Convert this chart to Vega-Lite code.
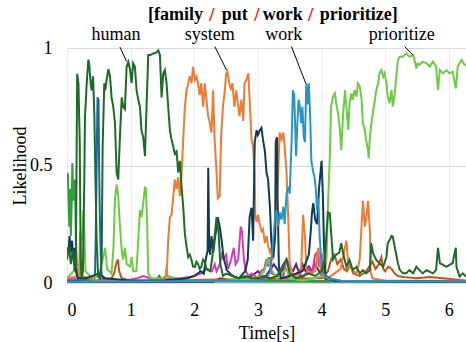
{
"$schema": "https://vega.github.io/schema/vega-lite/v6.json",
"width": 399, "height": 235,
"autosize": {"type": "none"},
"padding": {"left": 67, "top": 48, "right": 0, "bottom": 59},
"config": {"view": {"stroke": null}, "font": "Liberation Serif",
  "axis": {"labelFont": "Liberation Serif", "titleFont": "Liberation Serif", "labelFontSize": 18, "titleFontSize": 18, "titleFontWeight": "normal", "labelColor": "#000", "titleColor": "#000", "ticks": false, "domain": false},
  "axisX": {"gridColor": "#ececec"},
  "axisY": {"gridColor": "#d9d9d9"}},
"datasets": {
"lines": [
{"s":"a base","t":0,"y":0.006},{"s":"a base","t":6.27,"y":0.006},
{"s":"b purple","t":0,"y":0.005},{"s":"b purple","t":2.3,"y":0.005},{"s":"b purple","t":2.4,"y":0.02},{"s":"b purple","t":2.6,"y":0.01},{"s":"b purple","t":2.9,"y":0.03},{"s":"b purple","t":3.0,"y":0.05},{"s":"b purple","t":3.1,"y":0.02},{"s":"b purple","t":3.25,"y":0.08},{"s":"b purple","t":3.35,"y":0.04},{"s":"b purple","t":3.4,"y":0.06},{"s":"b purple","t":3.45,"y":0.1},{"s":"b purple","t":3.5,"y":0.06},{"s":"b purple","t":3.55,"y":0.05},{"s":"b purple","t":3.6,"y":0.08},{"s":"b purple","t":3.65,"y":0.04},{"s":"b purple","t":3.7,"y":0.08},{"s":"b purple","t":3.75,"y":0.05},{"s":"b purple","t":3.8,"y":0.07},{"s":"b purple","t":3.85,"y":0.05},{"s":"b purple","t":3.9,"y":0.08},{"s":"b purple","t":4.0,"y":0.03},{"s":"b purple","t":4.1,"y":0.01},{"s":"b purple","t":6.27,"y":0.005},
{"s":"c magenta","t":0,"y":0.01},{"s":"c magenta","t":0.1,"y":0.02},{"s":"c magenta","t":0.2,"y":0.01},{"s":"c magenta","t":0.3,"y":0.02},{"s":"c magenta","t":0.45,"y":0.01},{"s":"c magenta","t":0.6,"y":0.02},{"s":"c magenta","t":0.9,"y":0.01},{"s":"c magenta","t":1.1,"y":0.02},{"s":"c magenta","t":1.2,"y":0.03},{"s":"c magenta","t":1.3,"y":0.02},{"s":"c magenta","t":1.5,"y":0.01},{"s":"c magenta","t":1.6,"y":0.02},{"s":"c magenta","t":1.8,"y":0.02},{"s":"c magenta","t":2.0,"y":0.03},{"s":"c magenta","t":2.1,"y":0.04},{"s":"c magenta","t":2.2,"y":0.06},{"s":"c magenta","t":2.28,"y":0.05},{"s":"c magenta","t":2.32,"y":0.08},{"s":"c magenta","t":2.35,"y":0.05},{"s":"c magenta","t":2.4,"y":0.08},{"s":"c magenta","t":2.43,"y":0.12},{"s":"c magenta","t":2.46,"y":0.1},{"s":"c magenta","t":2.5,"y":0.12},{"s":"c magenta","t":2.53,"y":0.06},{"s":"c magenta","t":2.58,"y":0.1},{"s":"c magenta","t":2.62,"y":0.15},{"s":"c magenta","t":2.65,"y":0.08},{"s":"c magenta","t":2.69,"y":0.1},{"s":"c magenta","t":2.73,"y":0.24},{"s":"c magenta","t":2.75,"y":0.22},{"s":"c magenta","t":2.78,"y":0.1},{"s":"c magenta","t":2.81,"y":0.05},{"s":"c magenta","t":2.85,"y":0.03},{"s":"c magenta","t":2.9,"y":0.04},{"s":"c magenta","t":3.0,"y":0.02},{"s":"c magenta","t":3.05,"y":0.05},{"s":"c magenta","t":3.1,"y":0.06},{"s":"c magenta","t":3.13,"y":0.1},{"s":"c magenta","t":3.16,"y":0.07},{"s":"c magenta","t":3.19,"y":0.11},{"s":"c magenta","t":3.22,"y":0.04},{"s":"c magenta","t":3.3,"y":0.03},{"s":"c magenta","t":3.35,"y":0.05},{"s":"c magenta","t":3.4,"y":0.03},{"s":"c magenta","t":3.45,"y":0.1},{"s":"c magenta","t":3.5,"y":0.08},{"s":"c magenta","t":3.55,"y":0.03},{"s":"c magenta","t":3.65,"y":0.05},{"s":"c magenta","t":3.7,"y":0.02},{"s":"c magenta","t":3.8,"y":0.06},{"s":"c magenta","t":3.85,"y":0.04},{"s":"c magenta","t":3.9,"y":0.12},{"s":"c magenta","t":3.93,"y":0.13},{"s":"c magenta","t":3.96,"y":0.07},{"s":"c magenta","t":4.0,"y":0.126},{"s":"c magenta","t":4.03,"y":0.05},{"s":"c magenta","t":4.1,"y":0.02},{"s":"c magenta","t":4.3,"y":0.01},{"s":"c magenta","t":6.27,"y":0.005},
{"s":"d brown","t":0,"y":0.01},{"s":"d brown","t":0.6,"y":0.01},{"s":"d brown","t":0.7,"y":0.02},{"s":"d brown","t":0.74,"y":0.04},{"s":"d brown","t":0.77,"y":0.08},{"s":"d brown","t":0.8,"y":0.1},{"s":"d brown","t":0.82,"y":0.05},{"s":"d brown","t":0.86,"y":0.02},{"s":"d brown","t":1.0,"y":0.01},{"s":"d brown","t":4.0,"y":0.02},{"s":"d brown","t":4.1,"y":0.05},{"s":"d brown","t":4.15,"y":0.1},{"s":"d brown","t":4.2,"y":0.12},{"s":"d brown","t":4.25,"y":0.08},{"s":"d brown","t":4.3,"y":0.1},{"s":"d brown","t":4.35,"y":0.06},{"s":"d brown","t":4.4,"y":0.05},{"s":"d brown","t":4.45,"y":0.08},{"s":"d brown","t":4.5,"y":0.04},{"s":"d brown","t":4.6,"y":0.03},{"s":"d brown","t":4.7,"y":0.05},{"s":"d brown","t":4.8,"y":0.09},{"s":"d brown","t":4.85,"y":0.06},{"s":"d brown","t":4.9,"y":0.08},{"s":"d brown","t":4.94,"y":0.11},{"s":"d brown","t":4.97,"y":0.06},{"s":"d brown","t":5.0,"y":0.05},{"s":"d brown","t":5.05,"y":0.07},{"s":"d brown","t":5.1,"y":0.06},{"s":"d brown","t":5.15,"y":0.04},{"s":"d brown","t":5.2,"y":0.03},{"s":"d brown","t":5.3,"y":0.025},{"s":"d brown","t":5.5,"y":0.02},{"s":"d brown","t":5.7,"y":0.025},{"s":"d brown","t":5.9,"y":0.02},{"s":"d brown","t":6.1,"y":0.015},{"s":"d brown","t":6.27,"y":0.01},
{"s":"e steel","t":0,"y":0.01},{"s":"e steel","t":0.42,"y":0.01},{"s":"e steel","t":0.44,"y":0.03},{"s":"e steel","t":0.455,"y":0.25},{"s":"e steel","t":0.47,"y":0.6},{"s":"e steel","t":0.48,"y":0.79},{"s":"e steel","t":0.495,"y":0.78},{"s":"e steel","t":0.505,"y":0.5},{"s":"e steel","t":0.515,"y":0.3},{"s":"e steel","t":0.53,"y":0.12},{"s":"e steel","t":0.545,"y":0.03},{"s":"e steel","t":0.6,"y":0.01},{"s":"e steel","t":1.4,"y":0.01},{"s":"e steel","t":1.45,"y":0.03},{"s":"e steel","t":1.5,"y":0.01},{"s":"e steel","t":6.27,"y":0.005},
{"s":"f green","t":0,"y":0.47},{"s":"f green","t":0.015,"y":0.46},{"s":"f green","t":0.03,"y":0.3},{"s":"f green","t":0.037,"y":0.24},{"s":"f green","t":0.047,"y":0.4},{"s":"f green","t":0.06,"y":0.2},{"s":"f green","t":0.075,"y":0.35},{"s":"f green","t":0.084,"y":0.51},{"s":"f green","t":0.1,"y":0.35},{"s":"f green","t":0.115,"y":0.4},{"s":"f green","t":0.126,"y":0.44},{"s":"f green","t":0.14,"y":0.18},{"s":"f green","t":0.16,"y":0.04},{"s":"f green","t":0.2,"y":0.02},{"s":"f green","t":0.4,"y":0.01},{"s":"f green","t":6.27,"y":0.005},
{"s":"g prioritize","t":0,"y":0.02},{"s":"g prioritize","t":0.1,"y":0.05},{"s":"g prioritize","t":0.2,"y":0.08},{"s":"g prioritize","t":0.22,"y":0.2},{"s":"g prioritize","t":0.24,"y":0.18},{"s":"g prioritize","t":0.256,"y":0.31},{"s":"g prioritize","t":0.27,"y":0.24},{"s":"g prioritize","t":0.29,"y":0.05},{"s":"g prioritize","t":0.4,"y":0.02},{"s":"g prioritize","t":0.45,"y":0.03},{"s":"g prioritize","t":0.5,"y":0.02},{"s":"g prioritize","t":0.56,"y":0.1},{"s":"g prioritize","t":0.6,"y":0.15},{"s":"g prioritize","t":0.63,"y":0.06},{"s":"g prioritize","t":0.7,"y":0.04},{"s":"g prioritize","t":0.73,"y":0.15},{"s":"g prioritize","t":0.754,"y":0.36},{"s":"g prioritize","t":0.78,"y":0.42},{"s":"g prioritize","t":0.805,"y":0.37},{"s":"g prioritize","t":0.83,"y":0.25},{"s":"g prioritize","t":0.86,"y":0.14},{"s":"g prioritize","t":0.88,"y":0.1},{"s":"g prioritize","t":0.91,"y":0.15},{"s":"g prioritize","t":0.94,"y":0.08},{"s":"g prioritize","t":0.99,"y":0.07},{"s":"g prioritize","t":1.015,"y":0.11},{"s":"g prioritize","t":1.04,"y":0.05},{"s":"g prioritize","t":1.09,"y":0.05},{"s":"g prioritize","t":1.12,"y":0.18},{"s":"g prioritize","t":1.146,"y":0.31},{"s":"g prioritize","t":1.17,"y":0.28},{"s":"g prioritize","t":1.198,"y":0.34},{"s":"g prioritize","t":1.225,"y":0.41},{"s":"g prioritize","t":1.24,"y":0.4},{"s":"g prioritize","t":1.26,"y":0.25},{"s":"g prioritize","t":1.277,"y":0.04},{"s":"g prioritize","t":1.32,"y":0.02},{"s":"g prioritize","t":1.5,"y":0.02},{"s":"g prioritize","t":1.55,"y":0.03},{"s":"g prioritize","t":1.565,"y":0.07},{"s":"g prioritize","t":1.58,"y":0.03},{"s":"g prioritize","t":1.7,"y":0.02},{"s":"g prioritize","t":2.0,"y":0.01},{"s":"g prioritize","t":2.5,"y":0.01},{"s":"g prioritize","t":3.0,"y":0.02},{"s":"g prioritize","t":3.1,"y":0.05},{"s":"g prioritize","t":3.16,"y":0.11},{"s":"g prioritize","t":3.2,"y":0.06},{"s":"g prioritize","t":3.3,"y":0.02},{"s":"g prioritize","t":3.45,"y":0.06},{"s":"g prioritize","t":3.5,"y":0.02},{"s":"g prioritize","t":3.7,"y":0.01},{"s":"g prioritize","t":3.9,"y":0.02},{"s":"g prioritize","t":4.0,"y":0.03},{"s":"g prioritize","t":4.05,"y":0.04},{"s":"g prioritize","t":4.08,"y":0.112},{"s":"g prioritize","t":4.1,"y":0.325},{"s":"g prioritize","t":4.13,"y":0.538},{"s":"g prioritize","t":4.15,"y":0.751},{"s":"g prioritize","t":4.18,"y":0.793},{"s":"g prioritize","t":4.21,"y":0.807},{"s":"g prioritize","t":4.23,"y":0.765},{"s":"g prioritize","t":4.26,"y":0.722},{"s":"g prioritize","t":4.29,"y":0.651},{"s":"g prioritize","t":4.31,"y":0.566},{"s":"g prioritize","t":4.34,"y":0.722},{"s":"g prioritize","t":4.37,"y":0.821},{"s":"g prioritize","t":4.39,"y":0.751},{"s":"g prioritize","t":4.42,"y":0.651},{"s":"g prioritize","t":4.44,"y":0.765},{"s":"g prioritize","t":4.47,"y":0.807},{"s":"g prioritize","t":4.49,"y":0.779},{"s":"g prioritize","t":4.52,"y":0.821},{"s":"g prioritize","t":4.55,"y":0.793},{"s":"g prioritize","t":4.57,"y":0.85},{"s":"g prioritize","t":4.6,"y":0.836},{"s":"g prioritize","t":4.63,"y":0.779},{"s":"g prioritize","t":4.65,"y":0.68},{"s":"g prioritize","t":4.68,"y":0.651},{"s":"g prioritize","t":4.7,"y":0.609},{"s":"g prioritize","t":4.73,"y":0.566},{"s":"g prioritize","t":4.74,"y":0.53},{"s":"g prioritize","t":4.76,"y":0.623},{"s":"g prioritize","t":4.79,"y":0.694},{"s":"g prioritize","t":4.83,"y":0.765},{"s":"g prioritize","t":4.86,"y":0.821},{"s":"g prioritize","t":4.89,"y":0.85},{"s":"g prioritize","t":4.91,"y":0.892},{"s":"g prioritize","t":4.94,"y":0.906},{"s":"g prioritize","t":4.97,"y":0.878},{"s":"g prioritize","t":4.99,"y":0.892},{"s":"g prioritize","t":5.02,"y":0.85},{"s":"g prioritize","t":5.04,"y":0.793},{"s":"g prioritize","t":5.07,"y":0.765},{"s":"g prioritize","t":5.1,"y":0.821},{"s":"g prioritize","t":5.12,"y":0.751},{"s":"g prioritize","t":5.15,"y":0.807},{"s":"g prioritize","t":5.18,"y":0.892},{"s":"g prioritize","t":5.2,"y":0.949},{"s":"g prioritize","t":5.23,"y":0.963},{"s":"g prioritize","t":5.28,"y":0.963},{"s":"g prioritize","t":5.33,"y":0.977},{"s":"g prioritize","t":5.38,"y":0.963},{"s":"g prioritize","t":5.44,"y":0.97},{"s":"g prioritize","t":5.46,"y":0.949},{"s":"g prioritize","t":5.49,"y":0.913},{"s":"g prioritize","t":5.51,"y":0.935},{"s":"g prioritize","t":5.54,"y":0.928},{"s":"g prioritize","t":5.59,"y":0.942},{"s":"g prioritize","t":5.65,"y":0.935},{"s":"g prioritize","t":5.7,"y":0.921},{"s":"g prioritize","t":5.75,"y":0.942},{"s":"g prioritize","t":5.8,"y":0.921},{"s":"g prioritize","t":5.83,"y":0.821},{"s":"g prioritize","t":5.86,"y":0.906},{"s":"g prioritize","t":5.91,"y":0.892},{"s":"g prioritize","t":5.96,"y":0.906},{"s":"g prioritize","t":6.01,"y":0.892},{"s":"g prioritize","t":6.06,"y":0.899},{"s":"g prioritize","t":6.11,"y":0.828},{"s":"g prioritize","t":6.14,"y":0.921},{"s":"g prioritize","t":6.2,"y":0.949},{"s":"g prioritize","t":6.25,"y":0.928},{"s":"g prioritize","t":6.27,"y":0.93},
{"s":"h system","t":0,"y":0.02},{"s":"h system","t":0.19,"y":0.03},{"s":"h system","t":0.205,"y":0.22},{"s":"h system","t":0.22,"y":0.03},{"s":"h system","t":0.5,"y":0.01},{"s":"h system","t":1.0,"y":0.01},{"s":"h system","t":1.5,"y":0.01},{"s":"h system","t":1.565,"y":0.03},{"s":"h system","t":1.59,"y":0.183},{"s":"h system","t":1.617,"y":0.28},{"s":"h system","t":1.643,"y":0.29},{"s":"h system","t":1.67,"y":0.37},{"s":"h system","t":1.695,"y":0.44},{"s":"h system","t":1.722,"y":0.4},{"s":"h system","t":1.748,"y":0.45},{"s":"h system","t":1.774,"y":0.37},{"s":"h system","t":1.8,"y":0.46},{"s":"h system","t":1.826,"y":0.61},{"s":"h system","t":1.852,"y":0.75},{"s":"h system","t":1.879,"y":0.82},{"s":"h system","t":1.905,"y":0.85},{"s":"h system","t":1.93,"y":0.88},{"s":"h system","t":1.957,"y":0.85},{"s":"h system","t":1.98,"y":0.92},{"s":"h system","t":2.01,"y":0.864},{"s":"h system","t":2.035,"y":0.878},{"s":"h system","t":2.06,"y":0.85},{"s":"h system","t":2.085,"y":0.8},{"s":"h system","t":2.11,"y":0.85},{"s":"h system","t":2.14,"y":0.75},{"s":"h system","t":2.166,"y":0.85},{"s":"h system","t":2.19,"y":0.78},{"s":"h system","t":2.218,"y":0.71},{"s":"h system","t":2.245,"y":0.68},{"s":"h system","t":2.27,"y":0.64},{"s":"h system","t":2.296,"y":0.82},{"s":"h system","t":2.32,"y":0.61},{"s":"h system","t":2.35,"y":0.47},{"s":"h system","t":2.37,"y":0.36},{"s":"h system","t":2.4,"y":0.37},{"s":"h system","t":2.42,"y":0.61},{"s":"h system","t":2.45,"y":0.75},{"s":"h system","t":2.48,"y":0.82},{"s":"h system","t":2.5,"y":0.89},{"s":"h system","t":2.52,"y":0.9},{"s":"h system","t":2.55,"y":0.85},{"s":"h system","t":2.58,"y":0.82},{"s":"h system","t":2.6,"y":0.85},{"s":"h system","t":2.63,"y":0.75},{"s":"h system","t":2.66,"y":0.82},{"s":"h system","t":2.69,"y":0.75},{"s":"h system","t":2.71,"y":0.71},{"s":"h system","t":2.74,"y":0.78},{"s":"h system","t":2.77,"y":0.69},{"s":"h system","t":2.79,"y":0.85},{"s":"h system","t":2.82,"y":0.864},{"s":"h system","t":2.85,"y":0.892},{"s":"h system","t":2.87,"y":0.78},{"s":"h system","t":2.9,"y":0.61},{"s":"h system","t":2.925,"y":0.58},{"s":"h system","t":2.95,"y":0.45},{"s":"h system","t":2.96,"y":0.28},{"s":"h system","t":2.98,"y":0.26},{"s":"h system","t":3.0,"y":0.29},{"s":"h system","t":3.03,"y":0.25},{"s":"h system","t":3.056,"y":0.22},{"s":"h system","t":3.08,"y":0.23},{"s":"h system","t":3.11,"y":0.17},{"s":"h system","t":3.135,"y":0.2},{"s":"h system","t":3.16,"y":0.16},{"s":"h system","t":3.19,"y":0.13},{"s":"h system","t":3.21,"y":0.15},{"s":"h system","t":3.24,"y":0.1},{"s":"h system","t":3.27,"y":0.2},{"s":"h system","t":3.29,"y":0.33},{"s":"h system","t":3.32,"y":0.47},{"s":"h system","t":3.34,"y":0.64},{"s":"h system","t":3.37,"y":0.61},{"s":"h system","t":3.4,"y":0.64},{"s":"h system","t":3.42,"y":0.58},{"s":"h system","t":3.45,"y":0.47},{"s":"h system","t":3.47,"y":0.33},{"s":"h system","t":3.5,"y":0.07},{"s":"h system","t":3.55,"y":0.04},{"s":"h system","t":3.6,"y":0.03},{"s":"h system","t":3.68,"y":0.05},{"s":"h system","t":3.71,"y":0.29},{"s":"h system","t":3.74,"y":0.2},{"s":"h system","t":3.76,"y":0.06},{"s":"h system","t":3.8,"y":0.04},{"s":"h system","t":3.9,"y":0.05},{"s":"h system","t":3.95,"y":0.15},{"s":"h system","t":3.97,"y":0.1},{"s":"h system","t":4.0,"y":0.03},{"s":"h system","t":4.1,"y":0.02},{"s":"h system","t":4.2,"y":0.04},{"s":"h system","t":4.3,"y":0.06},{"s":"h system","t":4.39,"y":0.18},{"s":"h system","t":4.42,"y":0.08},{"s":"h system","t":4.5,"y":0.05},{"s":"h system","t":4.55,"y":0.04},{"s":"h system","t":4.6,"y":0.1},{"s":"h system","t":4.63,"y":0.25},{"s":"h system","t":4.65,"y":0.35},{"s":"h system","t":4.68,"y":0.24},{"s":"h system","t":4.7,"y":0.27},{"s":"h system","t":4.73,"y":0.35},{"s":"h system","t":4.76,"y":0.22},{"s":"h system","t":4.77,"y":0.05},{"s":"h system","t":4.8,"y":0.02},{"s":"h system","t":5.0,"y":0.01},{"s":"h system","t":6.27,"y":0.01},
{"s":"i navy","t":0,"y":0.15},{"s":"i navy","t":0.02,"y":0.12},{"s":"i navy","t":0.04,"y":0.2},{"s":"i navy","t":0.06,"y":0.13},{"s":"i navy","t":0.08,"y":0.18},{"s":"i navy","t":0.1,"y":0.1},{"s":"i navy","t":0.12,"y":0.15},{"s":"i navy","t":0.14,"y":0.05},{"s":"i navy","t":0.17,"y":0.02},{"s":"i navy","t":0.3,"y":0.02},{"s":"i navy","t":0.4,"y":0.03},{"s":"i navy","t":0.5,"y":0.04},{"s":"i navy","t":0.6,"y":0.02},{"s":"i navy","t":1.0,"y":0.01},{"s":"i navy","t":1.5,"y":0.01},{"s":"i navy","t":1.9,"y":0.02},{"s":"i navy","t":2.0,"y":0.03},{"s":"i navy","t":2.1,"y":0.05},{"s":"i navy","t":2.15,"y":0.04},{"s":"i navy","t":2.18,"y":0.1},{"s":"i navy","t":2.21,"y":0.14},{"s":"i navy","t":2.22,"y":0.49},{"s":"i navy","t":2.235,"y":0.14},{"s":"i navy","t":2.25,"y":0.12},{"s":"i navy","t":2.27,"y":0.2},{"s":"i navy","t":2.3,"y":0.13},{"s":"i navy","t":2.32,"y":0.18},{"s":"i navy","t":2.35,"y":0.24},{"s":"i navy","t":2.37,"y":0.28},{"s":"i navy","t":2.4,"y":0.24},{"s":"i navy","t":2.43,"y":0.18},{"s":"i navy","t":2.46,"y":0.11},{"s":"i navy","t":2.51,"y":0.055},{"s":"i navy","t":2.6,"y":0.03},{"s":"i navy","t":2.7,"y":0.02},{"s":"i navy","t":2.8,"y":0.05},{"s":"i navy","t":2.84,"y":0.1},{"s":"i navy","t":2.87,"y":0.28},{"s":"i navy","t":2.9,"y":0.32},{"s":"i navy","t":2.925,"y":0.18},{"s":"i navy","t":2.95,"y":0.6},{"s":"i navy","t":2.98,"y":0.65},{"s":"i navy","t":3.0,"y":0.63},{"s":"i navy","t":3.03,"y":0.65},{"s":"i navy","t":3.056,"y":0.66},{"s":"i navy","t":3.08,"y":0.61},{"s":"i navy","t":3.11,"y":0.56},{"s":"i navy","t":3.135,"y":0.47},{"s":"i navy","t":3.16,"y":0.44},{"s":"i navy","t":3.19,"y":0.32},{"s":"i navy","t":3.21,"y":0.18},{"s":"i navy","t":3.24,"y":0.11},{"s":"i navy","t":3.27,"y":0.2},{"s":"i navy","t":3.28,"y":0.6},{"s":"i navy","t":3.3,"y":0.62},{"s":"i navy","t":3.31,"y":0.35},{"s":"i navy","t":3.33,"y":0.07},{"s":"i navy","t":3.36,"y":0.02},{"s":"i navy","t":3.5,"y":0.03},{"s":"i navy","t":3.6,"y":0.04},{"s":"i navy","t":3.7,"y":0.05},{"s":"i navy","t":3.8,"y":0.12},{"s":"i navy","t":3.83,"y":0.22},{"s":"i navy","t":3.85,"y":0.3},{"s":"i navy","t":3.87,"y":0.34},{"s":"i navy","t":3.9,"y":0.27},{"s":"i navy","t":3.93,"y":0.25},{"s":"i navy","t":3.96,"y":0.4},{"s":"i navy","t":4.0,"y":0.52},{"s":"i navy","t":4.02,"y":0.38},{"s":"i navy","t":4.04,"y":0.15},{"s":"i navy","t":4.06,"y":0.03},{"s":"i navy","t":4.2,"y":0.01},{"s":"i navy","t":6.27,"y":0.005},
{"s":"j work","t":0,"y":0.005},{"s":"j work","t":3.1,"y":0.01},{"s":"j work","t":3.2,"y":0.05},{"s":"j work","t":3.24,"y":0.18},{"s":"j work","t":3.27,"y":0.28},{"s":"j work","t":3.29,"y":0.31},{"s":"j work","t":3.32,"y":0.24},{"s":"j work","t":3.345,"y":0.3},{"s":"j work","t":3.37,"y":0.27},{"s":"j work","t":3.4,"y":0.325},{"s":"j work","t":3.42,"y":0.25},{"s":"j work","t":3.45,"y":0.38},{"s":"j work","t":3.48,"y":0.41},{"s":"j work","t":3.5,"y":0.38},{"s":"j work","t":3.53,"y":0.61},{"s":"j work","t":3.55,"y":0.82},{"s":"j work","t":3.57,"y":0.8},{"s":"j work","t":3.6,"y":0.54},{"s":"j work","t":3.62,"y":0.68},{"s":"j work","t":3.64,"y":0.78},{"s":"j work","t":3.66,"y":0.75},{"s":"j work","t":3.68,"y":0.68},{"s":"j work","t":3.7,"y":0.75},{"s":"j work","t":3.72,"y":0.62},{"s":"j work","t":3.74,"y":0.6},{"s":"j work","t":3.76,"y":0.85},{"s":"j work","t":3.78,"y":0.76},{"s":"j work","t":3.8,"y":0.85},{"s":"j work","t":3.82,"y":0.72},{"s":"j work","t":3.84,"y":0.52},{"s":"j work","t":3.87,"y":0.47},{"s":"j work","t":3.89,"y":0.45},{"s":"j work","t":3.91,"y":0.4},{"s":"j work","t":3.93,"y":0.31},{"s":"j work","t":3.95,"y":0.36},{"s":"j work","t":3.97,"y":0.2},{"s":"j work","t":4.0,"y":0.08},{"s":"j work","t":4.02,"y":0.04},{"s":"j work","t":4.1,"y":0.02},{"s":"j work","t":4.3,"y":0.01},{"s":"j work","t":6.27,"y":0.005},
{"s":"k human","t":0,"y":0.1},{"s":"k human","t":0.03,"y":0.16},{"s":"k human","t":0.06,"y":0.08},{"s":"k human","t":0.09,"y":0.14},{"s":"k human","t":0.12,"y":0.05},{"s":"k human","t":0.14,"y":0.12},{"s":"k human","t":0.16,"y":0.89},{"s":"k human","t":0.18,"y":0.85},{"s":"k human","t":0.2,"y":0.6},{"s":"k human","t":0.215,"y":0.1},{"s":"k human","t":0.23,"y":0.02},{"s":"k human","t":0.25,"y":0.05},{"s":"k human","t":0.27,"y":0.4},{"s":"k human","t":0.283,"y":0.71},{"s":"k human","t":0.31,"y":0.85},{"s":"k human","t":0.335,"y":0.95},{"s":"k human","t":0.35,"y":0.93},{"s":"k human","t":0.36,"y":0.89},{"s":"k human","t":0.375,"y":0.84},{"s":"k human","t":0.387,"y":0.82},{"s":"k human","t":0.41,"y":0.88},{"s":"k human","t":0.43,"y":0.71},{"s":"k human","t":0.45,"y":0.4},{"s":"k human","t":0.466,"y":0.18},{"s":"k human","t":0.49,"y":0.03},{"s":"k human","t":0.52,"y":0.02},{"s":"k human","t":0.545,"y":0.1},{"s":"k human","t":0.56,"y":0.58},{"s":"k human","t":0.586,"y":0.85},{"s":"k human","t":0.6,"y":0.82},{"s":"k human","t":0.62,"y":0.86},{"s":"k human","t":0.65,"y":0.91},{"s":"k human","t":0.675,"y":0.88},{"s":"k human","t":0.69,"y":0.83},{"s":"k human","t":0.7,"y":0.79},{"s":"k human","t":0.727,"y":0.75},{"s":"k human","t":0.754,"y":0.68},{"s":"k human","t":0.77,"y":0.55},{"s":"k human","t":0.78,"y":0.47},{"s":"k human","t":0.805,"y":0.44},{"s":"k human","t":0.83,"y":0.61},{"s":"k human","t":0.86,"y":0.79},{"s":"k human","t":0.884,"y":0.75},{"s":"k human","t":0.91,"y":0.74},{"s":"k human","t":0.937,"y":0.92},{"s":"k human","t":0.963,"y":0.94},{"s":"k human","t":0.99,"y":0.91},{"s":"k human","t":1.015,"y":0.85},{"s":"k human","t":1.04,"y":0.935},{"s":"k human","t":1.067,"y":0.92},{"s":"k human","t":1.093,"y":0.82},{"s":"k human","t":1.12,"y":0.78},{"s":"k human","t":1.146,"y":0.75},{"s":"k human","t":1.17,"y":0.65},{"s":"k human","t":1.198,"y":0.62},{"s":"k human","t":1.225,"y":0.54},{"s":"k human","t":1.25,"y":0.75},{"s":"k human","t":1.277,"y":0.97},{"s":"k human","t":1.31,"y":0.97},{"s":"k human","t":1.355,"y":0.977},{"s":"k human","t":1.4,"y":0.98},{"s":"k human","t":1.434,"y":0.99},{"s":"k human","t":1.46,"y":0.97},{"s":"k human","t":1.486,"y":0.79},{"s":"k human","t":1.512,"y":0.89},{"s":"k human","t":1.538,"y":0.906},{"s":"k human","t":1.565,"y":0.85},{"s":"k human","t":1.59,"y":0.75},{"s":"k human","t":1.617,"y":0.65},{"s":"k human","t":1.643,"y":0.61},{"s":"k human","t":1.67,"y":0.58},{"s":"k human","t":1.695,"y":0.55},{"s":"k human","t":1.722,"y":0.56},{"s":"k human","t":1.748,"y":0.47},{"s":"k human","t":1.774,"y":0.52},{"s":"k human","t":1.8,"y":0.41},{"s":"k human","t":1.826,"y":0.325},{"s":"k human","t":1.852,"y":0.21},{"s":"k human","t":1.879,"y":0.154},{"s":"k human","t":1.905,"y":0.11},{"s":"k human","t":1.93,"y":0.12},{"s":"k human","t":1.957,"y":0.098},{"s":"k human","t":1.98,"y":0.07},{"s":"k human","t":2.01,"y":0.069},{"s":"k human","t":2.035,"y":0.09},{"s":"k human","t":2.06,"y":0.08},{"s":"k human","t":2.085,"y":0.06},{"s":"k human","t":2.11,"y":0.069},{"s":"k human","t":2.14,"y":0.1},{"s":"k human","t":2.166,"y":0.09},{"s":"k human","t":2.19,"y":0.06},{"s":"k human","t":2.218,"y":0.055},{"s":"k human","t":2.25,"y":0.05},{"s":"k human","t":2.28,"y":0.1},{"s":"k human","t":2.32,"y":0.2},{"s":"k human","t":2.35,"y":0.28},{"s":"k human","t":2.38,"y":0.22},{"s":"k human","t":2.41,"y":0.08},{"s":"k human","t":2.45,"y":0.03},{"s":"k human","t":2.5,"y":0.04},{"s":"k human","t":2.6,"y":0.03},{"s":"k human","t":2.7,"y":0.02},{"s":"k human","t":2.8,"y":0.03},{"s":"k human","t":2.9,"y":0.02},{"s":"k human","t":3.0,"y":0.02},{"s":"k human","t":3.1,"y":0.03},{"s":"k human","t":3.2,"y":0.02},{"s":"k human","t":3.3,"y":0.03},{"s":"k human","t":3.4,"y":0.08},{"s":"k human","t":3.45,"y":0.1},{"s":"k human","t":3.5,"y":0.04},{"s":"k human","t":3.6,"y":0.02},{"s":"k human","t":3.7,"y":0.03},{"s":"k human","t":3.8,"y":0.04},{"s":"k human","t":3.9,"y":0.03},{"s":"k human","t":4.0,"y":0.05},{"s":"k human","t":4.05,"y":0.1},{"s":"k human","t":4.1,"y":0.3},{"s":"k human","t":4.13,"y":0.297},{"s":"k human","t":4.18,"y":0.1},{"s":"k human","t":4.23,"y":0.12},{"s":"k human","t":4.28,"y":0.13},{"s":"k human","t":4.31,"y":0.169},{"s":"k human","t":4.34,"y":0.126},{"s":"k human","t":4.39,"y":0.069},{"s":"k human","t":4.44,"y":0.098},{"s":"k human","t":4.49,"y":0.055},{"s":"k human","t":4.55,"y":0.069},{"s":"k human","t":4.6,"y":0.041},{"s":"k human","t":4.65,"y":0.055},{"s":"k human","t":4.7,"y":0.041},{"s":"k human","t":4.76,"y":0.055},{"s":"k human","t":4.78,"y":0.169},{"s":"k human","t":4.81,"y":0.126},{"s":"k human","t":4.86,"y":0.098},{"s":"k human","t":4.91,"y":0.084},{"s":"k human","t":4.97,"y":0.069},{"s":"k human","t":5.02,"y":0.112},{"s":"k human","t":5.04,"y":0.169},{"s":"k human","t":5.07,"y":0.183},{"s":"k human","t":5.1,"y":0.2},{"s":"k human","t":5.12,"y":0.197},{"s":"k human","t":5.15,"y":0.154},{"s":"k human","t":5.18,"y":0.112},{"s":"k human","t":5.2,"y":0.084},{"s":"k human","t":5.23,"y":0.055},{"s":"k human","t":5.28,"y":0.041},{"s":"k human","t":5.33,"y":0.041},{"s":"k human","t":5.38,"y":0.055},{"s":"k human","t":5.44,"y":0.041},{"s":"k human","t":5.49,"y":0.069},{"s":"k human","t":5.54,"y":0.055},{"s":"k human","t":5.59,"y":0.041},{"s":"k human","t":5.65,"y":0.055},{"s":"k human","t":5.75,"y":0.041},{"s":"k human","t":5.8,"y":0.055},{"s":"k human","t":5.83,"y":0.15},{"s":"k human","t":5.86,"y":0.084},{"s":"k human","t":5.91,"y":0.077},{"s":"k human","t":5.96,"y":0.069},{"s":"k human","t":6.01,"y":0.077},{"s":"k human","t":6.06,"y":0.084},{"s":"k human","t":6.09,"y":0.126},{"s":"k human","t":6.11,"y":0.15},{"s":"k human","t":6.12,"y":0.069},{"s":"k human","t":6.17,"y":0.027},{"s":"k human","t":6.22,"y":0.041},{"s":"k human","t":6.27,"y":0.027}
],
"arrows": [
{"x1":0.832,"y1":1.004,"x2":0.937,"y2":0.942},
{"x1":2.323,"y1":1.006,"x2":2.507,"y2":0.906},
{"x1":3.527,"y1":1.006,"x2":3.752,"y2":0.85},
{"x1":5.306,"y1":1.006,"x2":5.437,"y2":0.97}
],
"labels": [
{"t":0.769,"y":1.055,"label":"human"},
{"t":2.245,"y":1.055,"label":"system"},
{"t":3.407,"y":1.055,"label":"work"},
{"t":5.259,"y":1.055,"label":"prioritize"}
],
"words": [
{"t":1.272,"y":1.14,"label":"[family"},
{"t":2.433,"y":1.14,"label":"put"},
{"t":3.077,"y":1.14,"label":"work"},
{"t":3.972,"y":1.14,"label":"prioritize]"}
],
"slashes": [
{"t":2.276,"y":1.14,"label":"/"},
{"t":2.983,"y":1.14,"label":"/"},
{"t":3.83,"y":1.14,"label":"/"}
]
},
"layer": [
{"data": {"name": "lines"},
 "mark": {"type": "line", "strokeWidth": 2, "clip": true},
 "encoding": {
  "x": {"field": "t", "type": "quantitative", "title": "Time[s]",
    "scale": {"domain": [0, 6.27], "nice": false, "zero": false},
    "axis": {"values": [0,0.25,0.5,0.75,1,1.25,1.5,1.75,2,2.25,2.5,2.75,3,3.25,3.5,3.75,4,4.25,4.5,4.75,5,5.25,5.5,5.75,6,6.25],
      "grid": true, "labelPadding": 18, "titlePadding": 5,
      "labelExpr": "datum.value % 1 == 0 ? '' + datum.value : ''"}},
  "y": {"field": "y", "type": "quantitative", "title": "Likelihood",
    "scale": {"domain": [0, 1], "nice": false},
    "axis": {"values": [0, 0.5, 1], "grid": true, "labelPadding": 15, "titlePadding": 0,
      "labelExpr": "'' + datum.value"}},
  "color": {"field": "s", "type": "nominal", "legend": null,
    "scale": {"domain": ["a base","b purple","c magenta","d brown","e steel","f green","g prioritize","h system","i navy","j work","k human"],
      "range": ["#1a7a8c","#5a1f5c","#d13db7","#c2501c","#1d6897","#2f9e3b","#6ccb44","#ee7a33","#0f3b55","#2794c9","#1d6b28"]}}
 }},
{"data": {"name": "arrows"},
 "mark": {"type": "rule", "color": "#000", "strokeWidth": 1},
 "encoding": {
  "x": {"field": "x1", "type": "quantitative", "title": "Time[s]"},
  "x2": {"field": "x2"},
  "y": {"field": "y1", "type": "quantitative", "title": "Likelihood"},
  "y2": {"field": "y2"}
 }},
{"data": {"name": "labels"},
 "mark": {"type": "text", "font": "Liberation Serif", "fontSize": 18, "color": "#000", "align": "center", "baseline": "middle"},
 "encoding": {
  "x": {"field": "t", "type": "quantitative", "title": "Time[s]"},
  "y": {"field": "y", "type": "quantitative", "title": "Likelihood"},
  "text": {"field": "label"}
 }},
{"data": {"name": "words"},
 "mark": {"type": "text", "font": "Liberation Serif", "fontSize": 18, "fontWeight": "bold", "color": "#000", "align": "left", "baseline": "middle"},
 "encoding": {
  "x": {"field": "t", "type": "quantitative", "title": "Time[s]"},
  "y": {"field": "y", "type": "quantitative", "title": "Likelihood"},
  "text": {"field": "label"}
 }},
{"data": {"name": "slashes"},
 "mark": {"type": "text", "font": "Liberation Serif", "fontSize": 19, "fontWeight": "bold", "color": "#ff0000", "align": "center", "baseline": "middle"},
 "encoding": {
  "x": {"field": "t", "type": "quantitative", "title": "Time[s]"},
  "y": {"field": "y", "type": "quantitative", "title": "Likelihood"},
  "text": {"field": "label"}
 }}
]
}
